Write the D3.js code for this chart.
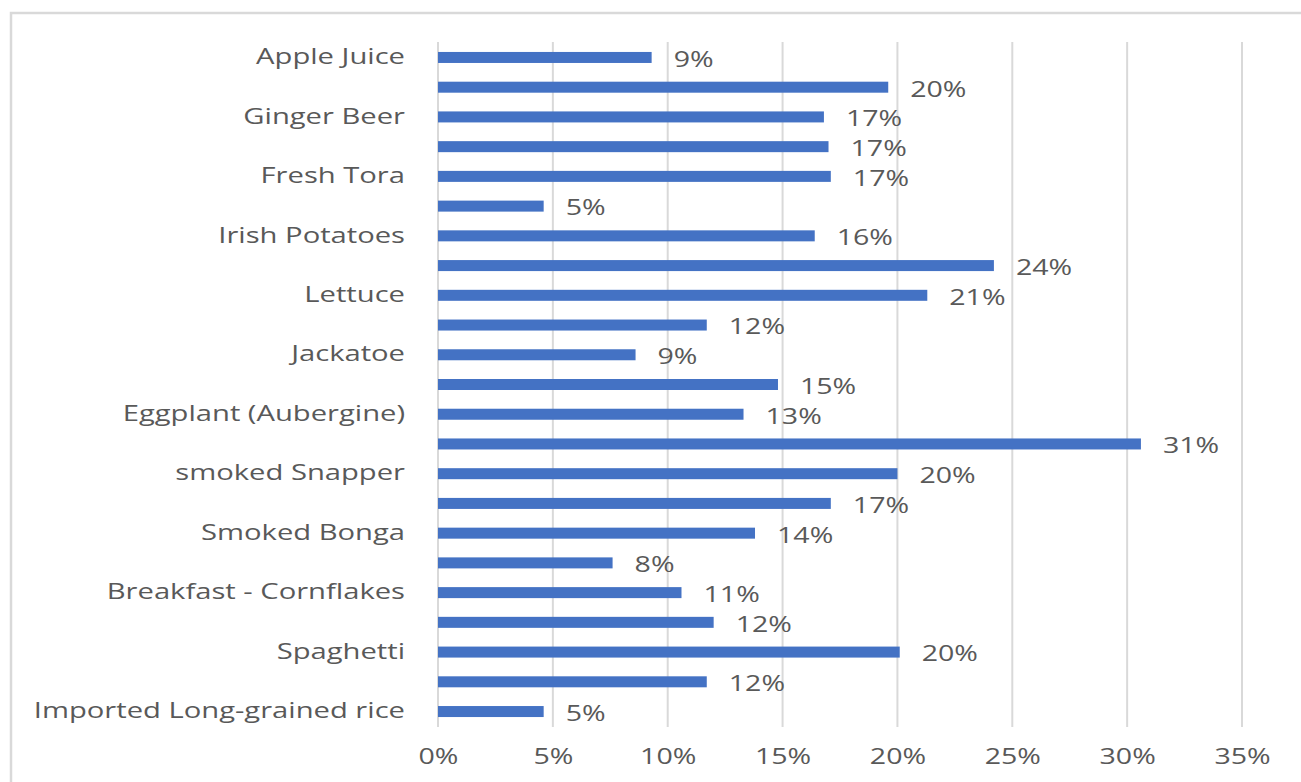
<!DOCTYPE html>
<html>
<head>
<meta charset="utf-8">
<script src="https://cdn.jsdelivr.net/npm/d3@7"></script>
<style>
  body { margin: 0; background: #fff; }
  text { font-family: "Open Sans", sans-serif; fill: #595959; }
</style>
</head>
<body>
<div id="chart"></div>
<script>
// categories, top to bottom (only every other one carries a label on the axis)
var categories = [
  "Apple Juice", "c2", "Ginger Beer", "c4", "Fresh Tora", "c6",
  "Irish Potatoes", "c8", "Lettuce", "c10", "Jackatoe ", "c12",
  "Eggplant (Aubergine)", "c14", "smoked Snapper", "c16", "Smoked Bonga", "c18",
  "Breakfast - Cornflakes", "c20", "Spaghetti", "c22", "Imported Long-grained rice"
]
var shownLabels = [
  "Apple Juice", "Ginger Beer", "Fresh Tora", "Irish Potatoes", "Lettuce", "Jackatoe ",
  "Eggplant (Aubergine)", "smoked Snapper", "Smoked Bonga", "Breakfast - Cornflakes",
  "Spaghetti", "Imported Long-grained rice"
]
var values = [
  0.093, 0.196, 0.168, 0.170, 0.171, 0.046, 0.164, 0.242, 0.213, 0.117, 0.086, 0.148,
  0.133, 0.306, 0.200, 0.171, 0.138, 0.076, 0.106, 0.120, 0.201, 0.117, 0.046
]
var xTicks = [0, 0.05, 0.10, 0.15, 0.20, 0.25, 0.30, 0.35]

var W = 1301, H = 782
var plot = {left: 438, right: 1242, top: 42, bottom: 727}
// the reference text is stretched sideways
var stretch = "scale(1.36,1)"

var svg = d3.select("#chart").append("svg")
    .attr("width", W)
    .attr("height", H)

// outer frame
svg.append("rect")
    .attr("x", 11).attr("y", 13)
    .attr("width", W + 20).attr("height", H + 20)
    .attr("fill", "none")
    .attr("stroke", "#d9d9d9")
    .attr("stroke-width", 2.5)

var x = d3.scaleLinear()
  .domain([0, 0.35])
  .range([plot.left, plot.right])

var y = d3.scaleBand()
  .domain(categories)
  .range([plot.top, plot.bottom])
  .paddingInner(0.63)
  .paddingOuter(0.335)

var pct = d3.format(".0%")

// gridlines
svg.append("g").selectAll("line")
  .data(xTicks)
  .join("line")
    .attr("x1", d => x(d)).attr("x2", d => x(d))
    .attr("y1", plot.top).attr("y2", plot.bottom)
    .attr("stroke", "#d9d9d9")
    .attr("stroke-width", 2)

// x axis labels
var xAxis = d3.axisBottom(x).tickValues(xTicks).tickFormat(pct).tickSize(0).tickPadding(0)
var gx = svg.append("g")
    .attr("transform", "translate(0," + 757 + ")")
    .call(xAxis)
gx.select(".domain").remove()
gx.selectAll("text")
    .attr("dy", "0.35em")
    .attr("y", 0)
    .attr("transform", stretch)
    .style("font-size", "21px")
    .style("font-family", "'Open Sans', sans-serif")
    .attr("fill", "#595959")

// y axis labels, every other category
var yAxis = d3.axisLeft(y)
  .tickValues(shownLabels)
  .tickSize(0).tickPadding(0)
var gy = svg.append("g")
    .attr("transform", "translate(405,0)")
    .call(yAxis)
gy.select(".domain").remove()
gy.selectAll("text")
    .attr("transform", "scale(1.39,1)")
    .style("font-size", "21px")
    .style("font-family", "'Open Sans', sans-serif")
    .attr("fill", "#595959")

// bars
var rows = categories.map((c, i) => ({cat: c, v: values[i]}))
svg.append("g").selectAll("rect")
  .data(rows)
  .join("rect")
    .attr("x", x(0))
    .attr("y", d => y(d.cat))
    .attr("width", d => x(d.v) - x(0))
    .attr("height", y.bandwidth())
    .attr("fill", "#4472c4")

// value labels
svg.append("g").selectAll("text")
  .data(rows)
  .join("text")
    .attr("transform", d => "translate(" + (x(d.v) + 22) + "," + (y(d.cat) + y.bandwidth() / 2 + 2) + ") " + stretch)
    .attr("dy", "0.35em")
    .style("font-size", "21px")
    .text(d => pct(d.v))
</script>
</body>
</html>
